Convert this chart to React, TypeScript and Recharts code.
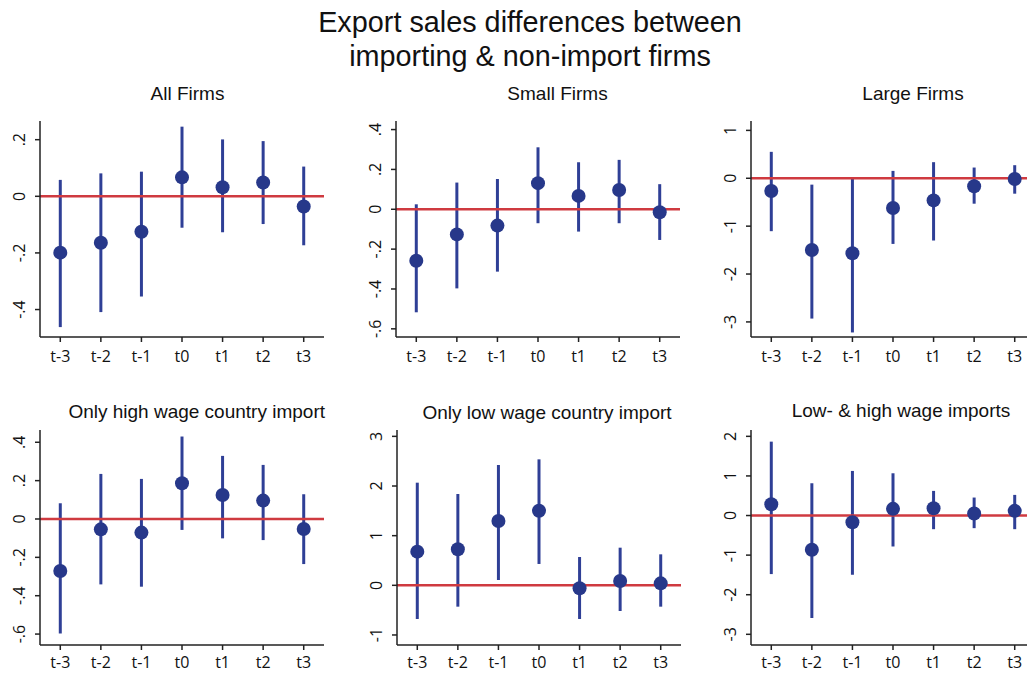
import React from 'react';
import { ComposedChart, Scatter, ErrorBar, XAxis, YAxis, ReferenceLine } from 'recharts';

const periods = ['t-3', 't-2', 't-1', 't0', 't1', 't2', 't3'];

// All Firms
const allEst = [-0.199, -0.164, -0.125, 0.067, 0.032, 0.049, -0.036];
const allLo = [-0.462, -0.409, -0.354, -0.111, -0.127, -0.098, -0.173];
const allHi = [0.058, 0.081, 0.087, 0.246, 0.201, 0.195, 0.105];
const allTicks = [-0.4, -0.2, 0, 0.2];

// Small Firms
const smallEst = [-0.258, -0.126, -0.082, 0.131, 0.067, 0.097, -0.015];
const smallLo = [-0.517, -0.397, -0.313, -0.07, -0.112, -0.07, -0.154];
const smallHi = [0.025, 0.134, 0.152, 0.311, 0.236, 0.248, 0.126];
const smallTicks = [-0.6, -0.4, -0.2, 0, 0.2, 0.4];

// Large Firms
const largeEst = [-0.266, -1.497, -1.566, -0.622, -0.462, -0.168, -0.014];
const largeLo = [-1.105, -2.93, -3.22, -1.371, -1.3, -0.531, -0.322];
const largeHi = [0.552, -0.133, -0.007, 0.154, 0.336, 0.224, 0.273];
const largeTicks = [-3, -2, -1, 0, 1];

// Only high wage country import
const highEst = [-0.271, -0.054, -0.071, 0.186, 0.125, 0.096, -0.052];
const highLo = [-0.597, -0.341, -0.353, -0.057, -0.101, -0.11, -0.235];
const highHi = [0.082, 0.235, 0.209, 0.43, 0.329, 0.282, 0.129];
const highTicks = [-0.6, -0.4, -0.2, 0, 0.2, 0.4];

// Only low wage country import
const lowEst = [0.678, 0.725, 1.295, 1.503, -0.06, 0.087, 0.04];
const lowLo = [-0.678, -0.43, 0.107, 0.43, -0.678, -0.517, -0.43];
const lowHi = [2.067, 1.839, 2.423, 2.537, 0.57, 0.758, 0.624];
const lowTicks = [-1, 0, 1, 2, 3];

// Low- & high wage imports
const bothEst = [0.286, -0.866, -0.168, 0.168, 0.185, 0.05, 0.118];
const bothLo = [-1.479, -2.588, -1.496, -0.782, -0.345, -0.319, -0.345];
const bothHi = [1.866, 0.815, 1.126, 1.067, 0.622, 0.454, 0.521];
const bothTicks = [-3, -2, -1, 0, 1, 2];

const CI_COLOR = '#2f3f96';
const DOT_COLOR = '#27388a';
const RED = '#cf3a40';
const AXIS_COLOR = '#222';
const TICK_FONT = '"Open Sans", "Noto Sans", sans-serif';
const TITLE_FONT = '"Liberation Sans", Arial, Helvetica, sans-serif';
const PLOT_W = 284;

const fmt = (v: number) => (v === 0 ? '0' : String(v).replace('0.', '.'));

const RotTick = (props: any) => {
  const { x, y, payload } = props;
  return (
    <text
      x={x}
      y={y}
      transform={`rotate(-90 ${x} ${y})`}
      textAnchor="middle"
      fontSize={16}
      fontFamily={TICK_FONT}
      fill="#111"
    >
      {fmt(payload.value)}
    </text>
  );
};

const Dot = (props: any) => {
  const { cx, cy } = props;
  if (cx == null || cy == null) return null;
  return <circle cx={cx} cy={cy} r={7} fill={DOT_COLOR} />;
};

const Empty = () => <g />;

type PanelProps = {
  est: number[];
  lo: number[];
  hi: number[];
  ticks: number[];
  domain: [number, number];
  plotLeft: number;
  plotTop: number;
  plotBottom: number;
  xMargin: number;
  xH: number;
};

function Panel({ est, lo, hi, ticks, domain, plotLeft, plotTop, plotBottom, xMargin, xH }: PanelProps) {
  const data = periods.map((p, i) => ({
    i,
    period: p,
    est: est[i],
    err: [est[i] - lo[i], hi[i] - est[i]],
  }));
  const yW = 40;
  const W = yW + PLOT_W + 10;
  const H = 5 + (plotBottom - plotTop) + xH;
  return (
    <div style={{ position: 'absolute', left: plotLeft - yW, top: plotTop - 5 }}>
      <ComposedChart width={W} height={H} data={data} margin={{ top: 5, right: 10, left: 0, bottom: 0 }}>
        <XAxis
          type="number"
          dataKey="i"
          domain={[-0.5, 6.5]}
          ticks={[0, 1, 2, 3, 4, 5, 6]}
          tickFormatter={(v: number) => periods[v]}
          interval={0}
          height={xH}
          tickSize={5}
          tickMargin={xMargin}
          stroke={AXIS_COLOR}
          strokeWidth={1.5}
          tick={{ fill: '#111', fontSize: 16, fontFamily: TICK_FONT }}
          allowDataOverflow
        />
        <YAxis
          type="number"
          domain={domain}
          ticks={ticks}
          width={yW}
          tickSize={5}
          tickMargin={10}
          tick={<RotTick />}
          interval={0}
          stroke={AXIS_COLOR}
          strokeWidth={1.5}
          allowDataOverflow
        />
        <Scatter data={data} dataKey="est" shape={<Empty />} isAnimationActive={false}>
          <ErrorBar dataKey="err" direction="y" width={0} stroke={CI_COLOR} strokeWidth={3} isAnimationActive={false} />
        </Scatter>
        <ReferenceLine y={0} stroke={RED} strokeWidth={2.5} />
        <Scatter data={data} dataKey="est" shape={<Dot />} isAnimationActive={false} />
      </ComposedChart>
    </div>
  );
}

const panelTitles = [
  'All Firms',
  'Small Firms',
  'Large Firms',
  'Only high wage country import',
  'Only low wage country import',
  'Low- & high wage imports',
];

export default function App() {
  return (
    <div
      style={{
        position: 'absolute',
        left: 0,
        top: 0,
        width: 1027,
        height: 673,
        overflow: 'hidden',
        background: '#fff',
      }}
    >
      <Panel est={allEst} lo={allLo} hi={allHi} ticks={allTicks} domain={[-0.497, 0.266]} plotLeft={40} plotTop={121} plotBottom={337} xMargin={9} xH={35} />
      <Panel est={smallEst} lo={smallLo} hi={smallHi} ticks={smallTicks} domain={[-0.641, 0.443]} plotLeft={396} plotTop={121} plotBottom={337} xMargin={9} xH={35} />
      <Panel est={largeEst} lo={largeLo} hi={largeHi} ticks={largeTicks} domain={[-3.315, 1.196]} plotLeft={751} plotTop={121} plotBottom={337} xMargin={9} xH={35} />
      <Panel est={highEst} lo={highLo} hi={highHi} ticks={highTicks} domain={[-0.657, 0.464]} plotLeft={40} plotTop={430} plotBottom={645} xMargin={7} xH={28} />
      <Panel est={lowEst} lo={lowLo} hi={lowHi} ticks={lowTicks} domain={[-1.202, 3.128]} plotLeft={397} plotTop={430} plotBottom={645} xMargin={7} xH={28} />
      <Panel est={bothEst} lo={bothLo} hi={bothHi} ticks={bothTicks} domain={[-3.27, 2.16]} plotLeft={751} plotTop={430} plotBottom={645} xMargin={7} xH={28} />
      <svg width={1027} height={673} style={{ position: 'absolute', left: 0, top: 0, pointerEvents: 'none' }}>
        <text x={530} y={32} textAnchor="middle" fontSize={28.8} fontFamily={TITLE_FONT} fill="#111">
          Export sales differences between
        </text>
        <text x={530} y={66} textAnchor="middle" fontSize={28.8} fontFamily={TITLE_FONT} fill="#111">
          importing &amp; non-import firms
        </text>
        <text x={187.5} y={100} textAnchor="middle" fontSize={19} fontFamily={TITLE_FONT} fill="#111">{panelTitles[0]}</text>
        <text x={557.5} y={100} textAnchor="middle" fontSize={19} fontFamily={TITLE_FONT} fill="#111">{panelTitles[1]}</text>
        <text x={913} y={100} textAnchor="middle" fontSize={19} fontFamily={TITLE_FONT} fill="#111">{panelTitles[2]}</text>
        <text x={196.7} y={418} textAnchor="middle" fontSize={19} fontFamily={TITLE_FONT} fill="#111">{panelTitles[3]}</text>
        <text x={547} y={419} textAnchor="middle" fontSize={19} fontFamily={TITLE_FONT} fill="#111">{panelTitles[4]}</text>
        <text x={901} y={417} textAnchor="middle" fontSize={19} fontFamily={TITLE_FONT} fill="#111">{panelTitles[5]}</text>
      </svg>
    </div>
  );
}
